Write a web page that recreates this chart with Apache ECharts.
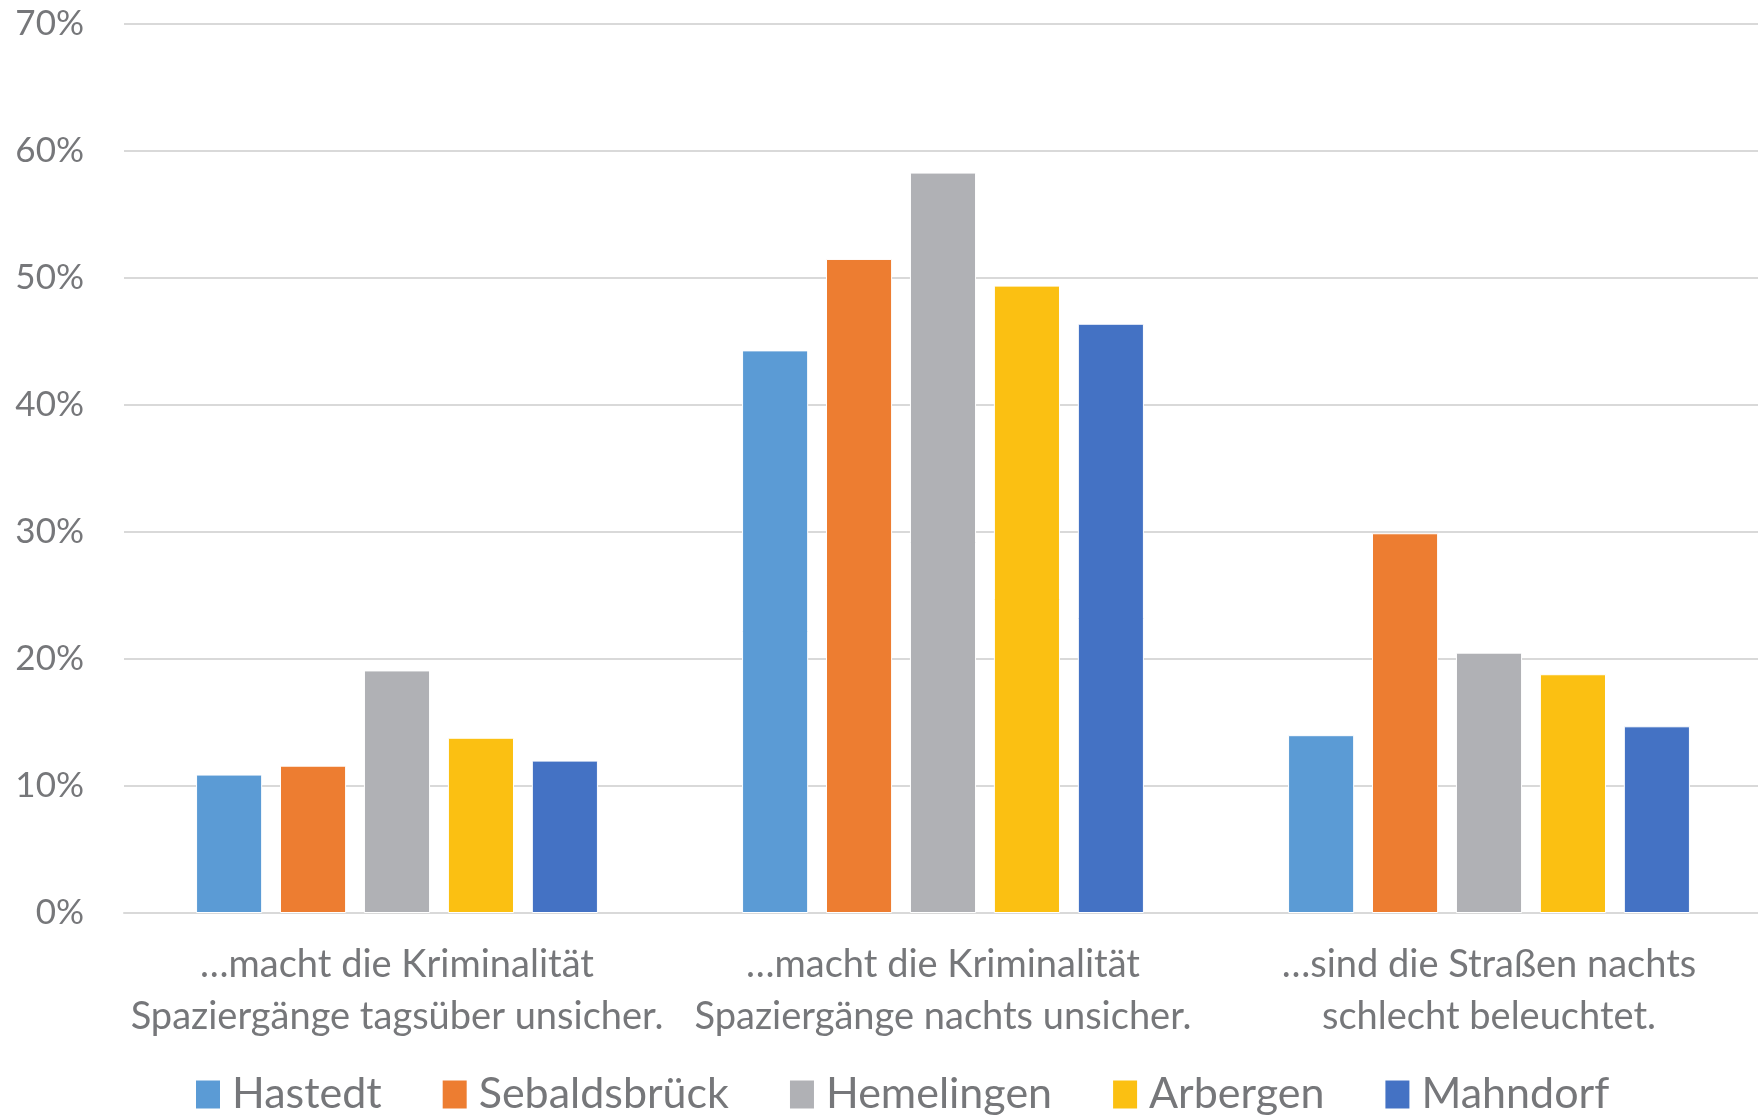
<!DOCTYPE html>
<html>
<head>
<meta charset="utf-8">
<script src="https://cdn.jsdelivr.net/npm/echarts@6/dist/echarts.min.js"></script>
<style>
  html, body { margin: 0; padding: 0; background: #fff; }
  #chart { width: 1758px; height: 1117px; }
</style>
</head>
<body>
<div id="chart"></div>
<script>
const categories = [
  '…macht die Kriminalität\nSpaziergänge tagsüber unsicher.',
  '…macht die Kriminalität\nSpaziergänge nachts unsicher.',
  '…sind die Straßen nachts\nschlecht beleuchtet.'
]
const yTicks = [0, 10, 20, 30, 40, 50, 60, 70]

const hastedt = [10.9, 44.3, 14.0]
const sebaldsbrueck = [11.6, 51.5, 29.9]
const hemelingen = [19.1, 58.3, 20.5]
const arbergen = [13.8, 49.4, 18.8]
const mahndorf = [12.0, 46.4, 14.7]

const seriesNames = ['Hastedt', 'Sebaldsbrück', 'Hemelingen', 'Arbergen', 'Mahndorf']
const seriesData = [hastedt, sebaldsbrueck, hemelingen, arbergen, mahndorf]
const colors = ['#5B9BD5', '#ED7D31', '#B0B1B5', '#FBC012', '#4472C4']

const textColor = '#76777A'
const fontFamily = 'Lato, "Open Sans", sans-serif'

const chart = echarts.init(document.getElementById('chart'))

const option = {
  animation: false,
  color: colors,
  grid: {
    left: 124,
    right: -4,
    top: 24,
    bottom: 204,
    outerBoundsMode: 'none'
  },
  legend: {
    data: seriesNames,
    top: 1073,
    left: 194,
    padding: 0,
    itemWidth: 26,
    itemHeight: 30,
    itemGap: 59,
    icon: 'rect',
    textStyle: {
      color: textColor,
      fontSize: 43,
      fontFamily: fontFamily,
      padding: [0, 0, 0, 6]
    }
  },
  xAxis: {
    type: 'category',
    data: categories,
    axisLine: { lineStyle: { color: '#D9D9D9', width: 2 } },
    axisTick: { show: false },
    axisLabel: {
      color: textColor,
      fontSize: 38,
      fontFamily: fontFamily,
      lineHeight: 52,
      margin: 26,
      interval: 0
    }
  },
  yAxis: {
    type: 'value',
    min: yTicks[0],
    max: yTicks[yTicks.length - 1],
    interval: 10,
    axisLine: { show: false },
    axisTick: { show: false },
    splitLine: { lineStyle: { color: '#D9D9D9', width: 2 } },
    axisLabel: {
      color: textColor,
      fontSize: 35,
      fontFamily: fontFamily,
      margin: 40,
      formatter: v => v + '%'
    }
  },
  series: seriesNames.map((name, i) => ({
    name: name,
    type: 'bar',
    data: seriesData[i],
    barGap: '27%',
    barCategoryGap: '26.4%',
    itemStyle: { borderColor: '#ffffff', borderWidth: 1 }
  }))
}

chart.setOption(option)

window.addEventListener('resize', () => {
  chart.resize()
})
</script>
</body>
</html>
